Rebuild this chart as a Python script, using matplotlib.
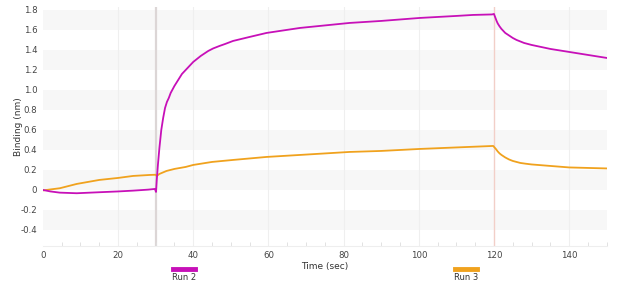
import matplotlib.pyplot as plt
from matplotlib.lines import Line2D
from matplotlib.ticker import MultipleLocator, FuncFormatter

# Values
run2_t = [0, 2, 4.5, 9, 15, 20, 24, 28, 29.8, 30.1, 30.3, 30.6, 31, 31.5, 32, 32.5, 33, 33.5, 34,
          35, 36, 37, 38, 39, 40, 41, 42, 43, 44, 45.3, 47, 48.5, 50.6, 55, 59.5, 68.4, 81.6, 90,
          100.3, 110, 114.4, 119.5, 120, 120.3, 120.7, 121, 121.5, 122, 122.5, 123, 124, 125, 126,
          127, 128, 130, 135, 140, 145, 150]
run2_v = [0, -0.015, -0.027, -0.033, -0.023, -0.015, -0.007, 0.003, 0.01, -0.02, 0.1, 0.25, 0.42,
          0.6, 0.72, 0.82, 0.88, 0.92, 0.97, 1.04, 1.1, 1.16, 1.2, 1.24, 1.28, 1.31, 1.34, 1.365,
          1.39, 1.415, 1.44, 1.46, 1.49, 1.53, 1.57, 1.62, 1.67, 1.69, 1.72, 1.74, 1.75, 1.755, 1.76,
          1.73, 1.69, 1.665, 1.635, 1.61, 1.59, 1.57, 1.545, 1.52, 1.50, 1.485, 1.47, 1.45, 1.41,
          1.38, 1.35, 1.32]

run3_t = [0, 2, 4.5, 9, 15, 20, 24, 28.5, 30, 30.3, 31, 32.9, 35, 38, 40, 45, 50.6, 59.5, 68.4,
          81.6, 90, 100.3, 110, 119.8, 120.5, 121, 121.5, 122, 123, 124, 125, 126, 127, 128.5, 130,
          135, 140, 145, 150]
run3_v = [-0.005, 0.005, 0.017, 0.06, 0.10, 0.12, 0.14, 0.15, 0.152, 0.14, 0.16, 0.19, 0.21,
          0.23, 0.25, 0.28, 0.30, 0.33, 0.35, 0.38, 0.39, 0.41, 0.425, 0.44, 0.41, 0.385, 0.365,
          0.35, 0.325, 0.305, 0.29, 0.28, 0.27, 0.262, 0.255, 0.24, 0.225, 0.22, 0.215]

step_times = [30, 120]
run_names = ['Run 2', 'Run 3']
run_colors = ['#c710b8', '#f0a21e']

fig = plt.figure(figsize=(6.4, 2.89), dpi=100)
ax = fig.add_axes([0.067, 0.149, 0.881, 0.827])

# alternating shaded bands
for lo in [1.6, 1.2, 0.8, 0.4, 0.0, -0.4]:
    ax.axhspan(lo, lo + 0.2, color='#f7f7f7', zorder=0, lw=0)
for x in [20, 40, 60, 80, 100, 140]:
    ax.axvline(x, color='#efefef', lw=0.8, zorder=0.5)

ax.axvline(step_times[0], color='#dcd6d6', lw=1.6, zorder=1)
ax.axvline(step_times[1], color='#f2cfc8', lw=1.0, zorder=1)

ax.plot(run3_t, run3_v, color=run_colors[1], lw=1.3, zorder=3)
ax.plot(run2_t, run2_v, color=run_colors[0], lw=1.3, zorder=4)

ax.set_xlim(0, 150)
ax.set_ylim(-0.56, 1.83)
ax.xaxis.set_major_locator(MultipleLocator(20))
ax.xaxis.set_minor_locator(MultipleLocator(5))
ax.yaxis.set_major_locator(MultipleLocator(0.2))
ax.yaxis.set_major_formatter(FuncFormatter(lambda v, p: '0' if abs(v) < 1e-9 else '%.1f' % v))
ax.tick_params(axis='both', which='major', length=0, labelsize=6.2, labelcolor='#444444', pad=4)
ax.tick_params(axis='x', which='minor', direction='in', length=3, color='#dddddd')
for s in ax.spines.values():
    s.set_visible(False)
ax.spines['bottom'].set_visible(True)
ax.spines['bottom'].set_color('#eeeeee')

ax.set_xlabel('Time (sec)', fontsize=6.5, color='#333333', labelpad=1)
ax.set_ylabel('Binding (nm)', fontsize=6.5, color='#333333')
ax.yaxis.set_label_coords(-0.036, 0.5)

# legend below the axis, swatch above each label
for name, col, xc in zip(run_names, run_colors, [0.288, 0.728]):
    fig.add_artist(Line2D([xc - 0.017, xc + 0.017], [0.069, 0.069], color=col, lw=3.5,
                          transform=fig.transFigure))
    fig.text(xc, 0.04, name, ha='center', va='center', fontsize=6, color='#333333')

fig.savefig('out.png', dpi=100)
